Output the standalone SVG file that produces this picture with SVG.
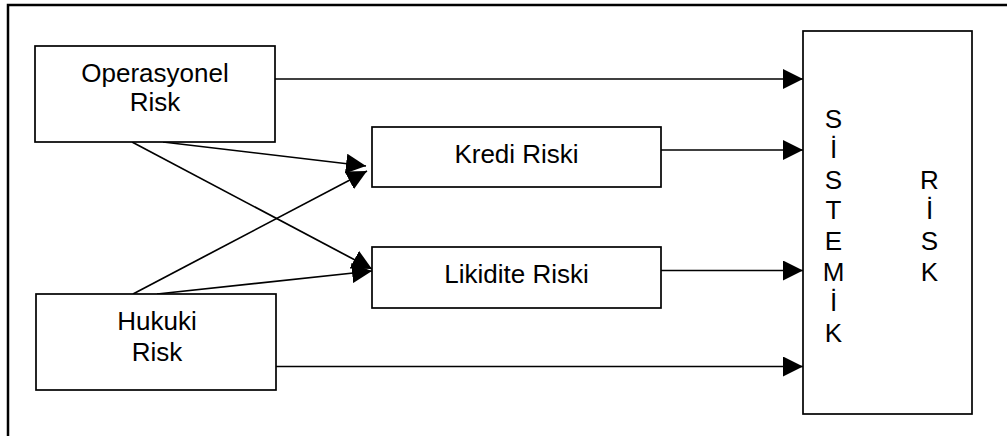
<svg xmlns="http://www.w3.org/2000/svg" width="1007" height="436" viewBox="0 0 1007 436">
  <style>
    .box { fill: #fff; stroke: #000; stroke-width: 1.7; }
    .frame { fill: none; stroke: #000; stroke-width: 2.5; }
    .lbl { font-family: "Liberation Sans", Arial, sans-serif; font-size: 26px; fill: #000; text-anchor: middle; }
    .edge { fill: none; stroke: #000; stroke-width: 1.7; marker-end: url(#head); }
  </style>
  <defs>
    <marker id="head" markerUnits="userSpaceOnUse" markerWidth="20" markerHeight="20" refX="20" refY="10" orient="auto" viewBox="0 0 20 20">
      <path d="M0,0 L20,10 L0,20 z" fill="#000"/>
    </marker>
  </defs>

  <!-- outer frame (right and bottom sides run past the canvas) -->
  <rect class="frame" x="8" y="5" width="1020" height="450"/>

  <g id="connectors">
    <line class="edge" x1="275" y1="79" x2="803" y2="79"/>
    <line class="edge" x1="661" y1="150" x2="803" y2="150"/>
    <line class="edge" x1="661" y1="270.5" x2="803" y2="270.5"/>
    <line class="edge" x1="276" y1="366.5" x2="803" y2="366.5"/>
    <line class="edge" x1="132" y1="142" x2="372" y2="269"/>
    <line class="edge" x1="163" y1="142" x2="366" y2="166"/>
    <line class="edge" x1="133" y1="294" x2="367" y2="171"/>
    <line class="edge" x1="157" y1="294" x2="372" y2="271"/>
  </g>

  <g id="operasyonel">
    <rect class="box" x="35" y="46" width="240" height="96"/>
    <text class="lbl" x="155" y="82">Operasyonel</text>
    <text class="lbl" x="155" y="111">Risk</text>
  </g>

  <g id="kredi">
    <rect class="box" x="372" y="127" width="289" height="60"/>
    <text class="lbl" x="516.5" y="162.5">Kredi Riski</text>
  </g>

  <g id="likidite">
    <rect class="box" x="372" y="247" width="289" height="61"/>
    <text class="lbl" x="516.5" y="282.5">Likidite Riski</text>
  </g>

  <g id="hukuki">
    <rect class="box" x="36" y="294" width="240" height="96"/>
    <text class="lbl" x="157" y="329.5">Hukuki</text>
    <text class="lbl" x="157" y="360.5">Risk</text>
  </g>

  <g id="sistemik-risk">
    <rect class="box" x="803" y="31" width="169" height="383"/>
    <text class="lbl" x="833.5" y="127.5">S<tspan x="833.5" dy="30.6">İ</tspan><tspan x="833.5" dy="30.6">S</tspan><tspan x="833.5" dy="30.6">T</tspan><tspan x="833.5" dy="30.6">E</tspan><tspan x="833.5" dy="30.6">M</tspan><tspan x="833.5" dy="30.6">İ</tspan><tspan x="833.5" dy="30.6">K</tspan></text>
    <text class="lbl" x="929.5" y="188.7">R<tspan x="929.5" dy="30.6">İ</tspan><tspan x="929.5" dy="30.6">S</tspan><tspan x="929.5" dy="30.6">K</tspan></text>
  </g>
</svg>
